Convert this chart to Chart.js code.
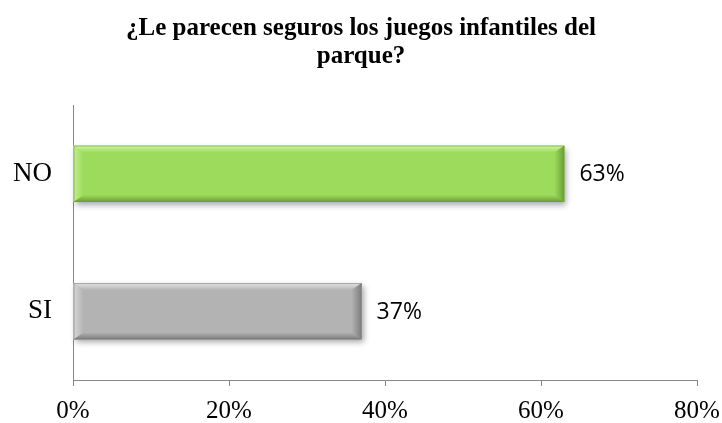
<!DOCTYPE html>
<html>
<head>
<meta charset="utf-8">
<script src="https://cdn.jsdelivr.net/npm/chart.js@4.4.0/dist/chart.umd.min.js"></script>
<style>
  html, body { margin: 0; padding: 0; background: #fff; }
  #wrap { width: 722px; height: 423px; }
</style>
</head>
<body>
<div id="wrap"><canvas id="barChart" width="722" height="423"></canvas></div>
<script>
// data
var categories = ['NO', 'SI'];
var values = [0.63, 0.37];
var barColors = ['#9cdb5b', '#b3b3b3'];
var lightColors = ['#d2f7a2', '#e6e6e6'];
var darkColors = ['#6c9c39', '#7c7c7c'];
var titleLines = ['¿Le parecen seguros los juegos infantiles del', 'parque?'];

// soft bevel look for the bars, drawn over the library bars
var bevelPlugin = {
    id: 'bevel',
    beforeDatasetsDraw: function(chart) {
        var ctx = chart.ctx;
        var meta = chart.getDatasetMeta(0);
        ctx.save();
        ctx.shadowColor = 'rgba(0,0,0,0.35)';
        ctx.shadowBlur = 6;
        ctx.shadowOffsetX = 2;
        ctx.shadowOffsetY = 3;
        ctx.fillStyle = '#ffffff';
        meta.data.forEach(function(bar) {
            var top = bar.y - bar.height / 2;
            ctx.fillRect(bar.base, top, bar.x - bar.base, bar.height);
        });
        ctx.restore();
    },
    afterDatasetsDraw: function(chart) {
        var ctx = chart.ctx;
        var meta = chart.getDatasetMeta(0);
        ctx.save();
        meta.data.forEach(function(bar, i) {
            var l = bar.base, r = bar.x;
            var t = bar.y - bar.height / 2, b = bar.y + bar.height / 2;
            var d = 10, h = 7;
            var g;
            // top
            g = ctx.createLinearGradient(0, t, 0, t + h);
            g.addColorStop(0, lightColors[i]);
            g.addColorStop(1, barColors[i]);
            ctx.fillStyle = g;
            ctx.beginPath();
            ctx.moveTo(l, t); ctx.lineTo(r, t); ctx.lineTo(r - d, t + h); ctx.lineTo(l + d, t + h);
            ctx.closePath(); ctx.fill();
            // left
            g = ctx.createLinearGradient(l, 0, l + d, 0);
            g.addColorStop(0, lightColors[i]);
            g.addColorStop(1, barColors[i]);
            ctx.fillStyle = g;
            ctx.globalAlpha = 0.7;
            ctx.beginPath();
            ctx.moveTo(l, t); ctx.lineTo(l + d, t + h); ctx.lineTo(l + d, b - h); ctx.lineTo(l, b);
            ctx.closePath(); ctx.fill();
            ctx.globalAlpha = 1;
            // bottom
            g = ctx.createLinearGradient(0, b - h, 0, b);
            g.addColorStop(0, barColors[i]);
            g.addColorStop(1, darkColors[i]);
            ctx.fillStyle = g;
            ctx.beginPath();
            ctx.moveTo(l, b); ctx.lineTo(r, b); ctx.lineTo(r - d, b - h); ctx.lineTo(l + d, b - h);
            ctx.closePath(); ctx.fill();
            // right
            g = ctx.createLinearGradient(r - d, 0, r, 0);
            g.addColorStop(0, barColors[i]);
            g.addColorStop(1, darkColors[i]);
            ctx.fillStyle = g;
            ctx.beginPath();
            ctx.moveTo(r, t); ctx.lineTo(r - d, t + h); ctx.lineTo(r - d, b - h); ctx.lineTo(r, b);
            ctx.closePath(); ctx.fill();
            ctx.strokeStyle = darkColors[i];
            ctx.globalAlpha = 0.6;
            ctx.lineWidth = 1;
            ctx.strokeRect(l + 0.5, t + 0.5, r - l - 1, b - t - 1);
            ctx.globalAlpha = 1;
        });
        ctx.restore();
    }
};

// percent labels at the end of each bar
var valueLabels = {
    id: 'valueLabels',
    afterDatasetsDraw: function(chart) {
        var ctx = chart.ctx;
        var meta = chart.getDatasetMeta(0);
        ctx.save();
        ctx.font = '23px "Open Sans"';
        ctx.fillStyle = '#000';
        ctx.textAlign = 'left';
        ctx.textBaseline = 'middle';
        meta.data.forEach(function(bar, i) {
            ctx.fillText(Math.round(values[i] * 100) + '%', bar.x + 15, bar.y + 1);
        });
        ctx.restore();
    }
};

var ctx = document.getElementById('barChart').getContext('2d');
new Chart(ctx, {
    type: 'bar',
    data: {
        labels: categories,
        datasets: [{
            data: values,
            backgroundColor: barColors,
            borderWidth: 0,
            barPercentage: 0.41,
            categoryPercentage: 1
        }]
    },
    options: {
        indexAxis: 'y',
        responsive: false,
        animation: false,
        layout: { padding: { left: 0, right: 0, top: 15, bottom: 0 } },
        plugins: {
            legend: { display: false },
            tooltip: { enabled: false },
            title: {
                display: true,
                text: titleLines,
                color: '#000',
                font: { family: '"Liberation Serif"', size: 25, weight: 'bold', lineHeight: 1.12 },
                padding: { top: 0, bottom: 34 }
            }
        },
        scales: {
            x: {
                min: 0,
                max: 0.8,
                ticks: {
                    stepSize: 0.2,
                    color: '#000',
                    font: { family: '"Liberation Serif"', size: 25 },
                    padding: 10,
                    maxRotation: 0,
                    callback: function(v) { return Math.round(v * 100) + '%'; }
                },
                afterFit: function(scale) {
                    scale.height = 43;
                    scale.paddingLeft = 0;
                    scale.paddingRight = 25;
                },
                grid: { display: true, drawOnChartArea: false, drawTicks: true, tickLength: 6, color: '#868686' },
                border: { display: true, color: '#868686', width: 1 }
            },
            y: {
                ticks: {
                    color: '#000',
                    font: { family: '"Liberation Serif"', size: 27 },
                    padding: 13
                },
                afterFit: function(scale) { scale.width = 73; },
                grid: { display: false },
                border: { display: true, color: '#868686', width: 1 }
            }
        }
    },
    plugins: [bevelPlugin, valueLabels]
});
</script>
</body>
</html>
